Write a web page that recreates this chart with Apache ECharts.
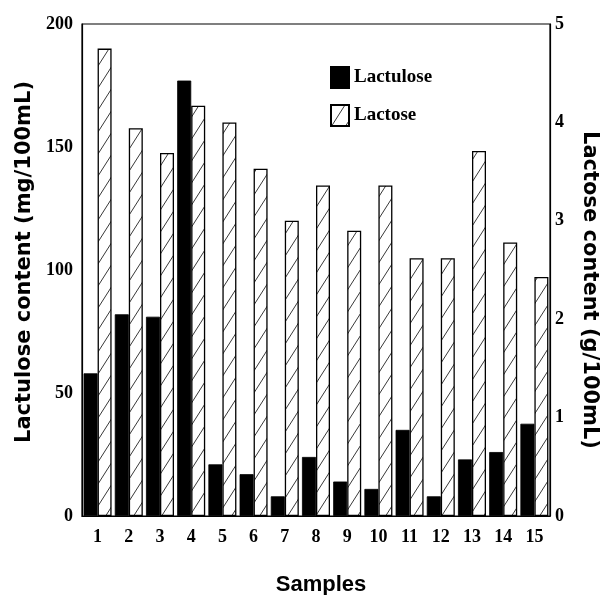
<!DOCTYPE html>
<html>
<head>
<meta charset="utf-8">
<script src="https://cdn.jsdelivr.net/npm/echarts@6/dist/echarts.min.js"></script>
<style>
html,body{margin:0;padding:0;background:#fff;}
#chart{width:600px;height:595px;}
</style>
</head>
<body>
<div id="chart"></div>
<script>
const samples = ['1','2','3','4','5','6','7','8','9','10','11','12','13','14','15'];
const lactulose = [58, 82, 81, 177, 21, 17, 8, 24, 14, 11, 35, 8, 23, 26, 37.5];
const lactose = [4.75, 3.94, 3.69, 4.17, 4.0, 3.53, 3.0, 3.36, 2.9, 3.36, 2.62, 2.62, 3.71, 2.78, 2.43];
const leftTicks = [0, 50, 100, 150, 200];
const rightTicks = [0, 1, 2, 3, 4, 5];

function hatch() {
  const w = 14, h = 22;
  const c = document.createElement('canvas');
  c.width = w; c.height = h;
  const g = c.getContext('2d');
  g.fillStyle = '#fff';
  g.fillRect(0, 0, w, h);
  g.strokeStyle = '#222';
  g.lineWidth = 0.9;
  for (let k = -1; k <= 1; k++) {
    g.beginPath();
    g.moveTo(k * w, h);
    g.lineTo(k * w + w, 0);
    g.stroke();
  }
  return c;
}

const chart = echarts.init(document.getElementById('chart'), null, {renderer: 'canvas'});
const serif = {color: '#000', fontFamily: 'Liberation Serif', fontWeight: 'bold', fontSize: 18};
const sansName = {color: '#000', fontFamily: 'DejaVu Sans', fontWeight: 'bold', fontSize: 21};

chart.setOption({
  animation: false,
  backgroundColor: '#fff',
  grid: {left: 82, right: 50, top: 24, bottom: 79, show: true, borderColor: '#000', borderWidth: 1.2,
         containLabel: false, outerBoundsMode: 'none'},
  legend: {
    orient: 'vertical', left: 325, top: 61,
    itemWidth: 18, itemHeight: 21, itemGap: 15,
    icon: 'rect',
    textStyle: {color: '#000', fontFamily: 'Liberation Serif', fontWeight: 'bold', fontSize: 19},
    data: ['Lactulose', 'Lactose']
  },
  xAxis: {
    type: 'category', data: samples,
    name: 'Samples', nameLocation: 'middle', nameGap: 58,
    nameTextStyle: {color: '#000', fontFamily: 'Liberation Sans', fontWeight: 'bold', fontSize: 22, padding: [0, 0, 0, 10]},
    axisLine: {show: true, lineStyle: {color: '#000', width: 1.2}},
    axisTick: {show: false},
    axisLabel: Object.assign({}, serif, {margin: 12})
  },
  yAxis: [{
    type: 'value', min: leftTicks[0], max: leftTicks[leftTicks.length - 1], interval: 50,
    name: 'Lactulose content (mg/100mL)', nameLocation: 'middle', nameGap: 42, nameRotate: 90,
    nameTextStyle: Object.assign({}, sansName, {padding: [0, 0, 0, 16]}),
    axisLine: {show: true, lineStyle: {color: '#000', width: 1.2}},
    axisTick: {show: false},
    splitLine: {show: false},
    axisLabel: Object.assign({}, serif, {margin: 9})
  }, {
    type: 'value', min: rightTicks[0], max: rightTicks[rightTicks.length - 1], interval: 1,
    name: 'Lactose content (g/100mL)', nameLocation: 'middle', nameGap: 29, nameRotate: -90,
    nameTextStyle: Object.assign({}, sansName, {padding: [0, 0, 0, 40]}),
    axisLine: {show: true, lineStyle: {color: '#000', width: 1.2}},
    axisTick: {show: false},
    splitLine: {show: false},
    axisLabel: Object.assign({}, serif, {margin: 5})
  }],
  series: [{
    name: 'Lactulose', type: 'bar', yAxisIndex: 0, data: lactulose,
    barWidth: 14, barGap: '0%',
    itemStyle: {color: '#000', borderColor: '#000', borderWidth: 0.8}
  }, {
    name: 'Lactose', type: 'bar', yAxisIndex: 1, data: lactose,
    barWidth: 14, barGap: '0%',
    itemStyle: {color: {image: hatch(), repeat: 'repeat'}, borderColor: '#000', borderWidth: 1.3}
  }]
});
</script>
</body>
</html>
